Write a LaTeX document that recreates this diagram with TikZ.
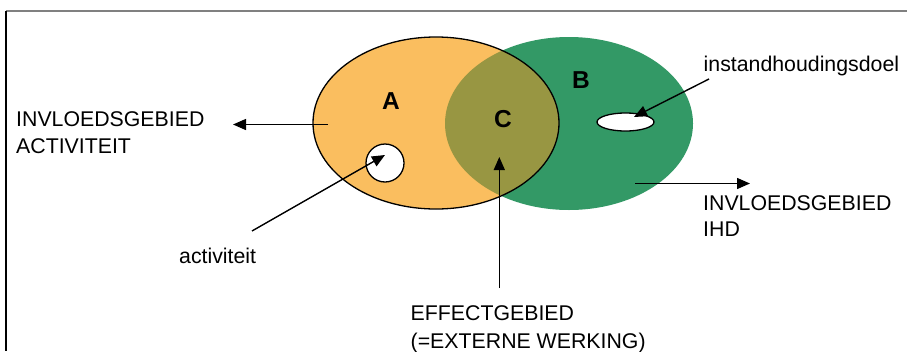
\documentclass[tikz,border=0pt]{standalone}
\usepackage{fontspec}
\setmainfont{Liberation Sans}
\usetikzlibrary{arrows.meta,shapes.geometric}
\definecolor{grn}{RGB}{51,153,102}
\definecolor{org}{RGB}{250,190,95}
\definecolor{olv}{RGB}{152,150,66}
\definecolor{frm}{RGB}{128,128,128}
\begin{document}
\begin{tikzpicture}[x=1pt,y=-1pt,
 lbl/.style={font=\fontsize{21.3}{26.7}\selectfont, inner sep=0pt, align=left},
 big/.style={font=\bfseries\fontsize{24.5}{28}\selectfont, inner sep=0pt},
 arr/.style={line width=1.4pt, -{Triangle[length=13pt,width=11pt]}},
 hole/.style={draw, line width=1.3pt, fill=white, inner sep=0pt}]
\useasboundingbox (0,0) rectangle (907,351);
\fill[white] (0,0) rectangle (907,351);
\draw[frm, line width=1.5pt] (6,11) -- (907,11);
\draw[black, line width=1.3pt] (6,11) -- (6,351);
% areas
\fill[grn] (569,123.5) ellipse [x radius=124, y radius=86.5];
\fill[org] (436,123) ellipse [x radius=123, y radius=86];
\begin{scope}
\clip (569,123.5) ellipse [x radius=124, y radius=86.5];
\fill[olv] (436,123) ellipse [x radius=123, y radius=86];
\end{scope}
\draw[line width=1.3pt] (436,123) ellipse [x radius=123, y radius=86];
% holes
\node[hole, circle, minimum size=38pt] (act) at (385,163) {};
\node[hole, ellipse, minimum width=57pt, minimum height=18pt] (ihd) at (625.5,122) {};
% region labels
\node[big] (A) at (391,101) {A};
\node[big] (B) at (581,80.5) {B};
\node[big] (C) at (503,119.5) {C};
% texts
\node[lbl, anchor=north west] (invA) at (16,111.5) {INVLOEDSGEBIED\\ACTIVITEIT};
\node[lbl, anchor=base west] (actT) at (179,263) {activiteit};
\node[lbl, anchor=base west] (ihdT) at (703.5,71.7) {instandhoudingsdoel};
\node[lbl, anchor=north west] (invB) at (703,195) {INVLOEDSGEBIED\\IHD};
\node[lbl, anchor=north west, font=\fontsize{21.3}{28}\selectfont] (eff) at (410.5,305) {EFFECTGEBIED\\(=EXTERNE WERKING)};
% connector points
\coordinate (aS) at (328,124.5);
\coordinate (aE) at (233,124.5);
\coordinate (actS) at (252,231);
\coordinate (actE) at (385,155);
\coordinate (cS) at (499.3,288);
\coordinate (cE) at (499.3,157);
\coordinate (ihdS) at (709,79);
\coordinate (ihdE) at (634,117);
\coordinate (bS) at (635,183.5);
\coordinate (bE) at (750,183.5);
\draw[arr] (aS) -- (aE);
\draw[arr] (actS) -- (actE);
\draw[arr] (cS) -- (cE);
\draw[arr] (ihdS) -- (ihdE);
\draw[arr] (bS) -- (bE);
\end{tikzpicture}
\end{document}
